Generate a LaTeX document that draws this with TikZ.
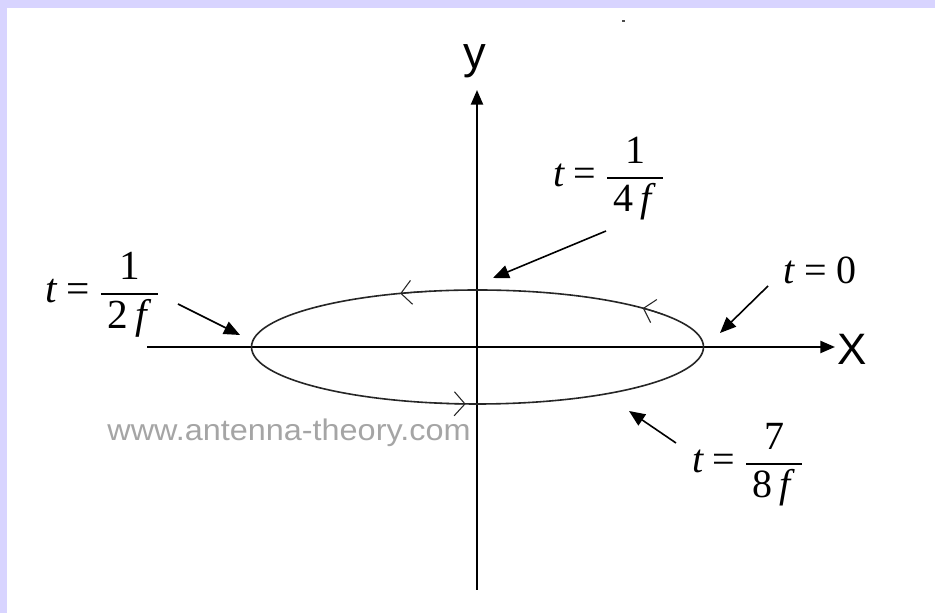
\documentclass[tikz,border=0pt]{standalone}
\usepackage{amsmath,amssymb}
\usepackage{fontspec}
\setmainfont{Liberation Serif}
\newfontfamily\arialfont{Liberation Sans}
\usetikzlibrary{arrows.meta}
\definecolor{lavender}{RGB}{216,212,255}
\definecolor{markgray}{RGB}{165,165,165}
\newcommand{\tfraclabel}[2]{$\textit{t} \mathrel{\text{=}} \dfrac{\text{#1}}{\text{\,#2\,}}$}

\begin{document}
\begin{tikzpicture}[x=0.75pt, y=0.75pt,
  axis/.style={line width=1.7pt, -{Triangle[length=11pt, width=9pt]}},
  orbit/.style={line width=1.2pt, black!85},
  chevron/.style={line width=0.8pt, black!85, -{Straight Barb[length=8pt, width=18pt]}},
  pointer/.style={line width=1.2pt, -{Triangle[length=12pt, width=10pt]}},
  tlabel/.style={inner sep=0pt, font=\fontsize{30}{34}\selectfont},
  axislabel/.style={inner sep=0pt, font=\arialfont\fontsize{33}{36}\selectfont},
  watermark/.style={inner sep=0pt, text=markgray, font=\arialfont\fontsize{24.3}{26}\selectfont}
]
  % frame
  \fill[lavender] (0,0) rectangle (935,613);
  \fill[white] (7,0) rectangle (935,605);
  \fill[black!70] (621.5,591) rectangle (625,593);

  % axes
  \coordinate (xstart) at (147,266);
  \coordinate (xend) at (835,266);
  \coordinate (ystart) at (477,23);
  \coordinate (yend) at (477,523);
  \draw[axis] (xstart) -- (xend);
  \draw[axis] (ystart) -- (yend);
  \node[axislabel] (xlab) at (852.5,263.5) {X};
  \node[axislabel, font=\arialfont\fontsize{34}{36}\selectfont] (ylab) at (475,552) {y};

  % polarization ellipse
  \coordinate (C) at (477.5,266);
  \draw[orbit] (C) ellipse[x radius=226, y radius=57];
  \draw[chevron] ([shift={(102:226 and 57)}]C) arc[start angle=102, end angle=110, x radius=226, y radius=57];
  \draw[chevron] ([shift={(35:226 and 57)}]C) arc[start angle=35, end angle=43, x radius=226, y radius=57];
  \draw[chevron] ([shift={(259:226 and 57)}]C) arc[start angle=259, end angle=267, x radius=226, y radius=57];

  \node[watermark] (site) at (289,180) {\scalebox{1}[0.92]{www.antenna-theory.com}};

  % time labels
  \node[tlabel, font=\fontsize{31}{34}\selectfont] (half) at (103,318) {\tfraclabel{1}{2\,\textit{f}}};
  \node[tlabel] (quarter) at (609,434) {\tfraclabel{1}{4\,\textit{f}}};
  \node[tlabel] (zero) at (820,343) {$\textit{t} \mathrel{\text{=}} \text{0}$};
  \node[tlabel] (seveneighth) at (748,148) {\tfraclabel{7}{8\,\textit{f}}};

  \coordinate (halfA) at (178,309);
  \coordinate (halfB) at (240,278);
  \coordinate (quarterA) at (606,382);
  \coordinate (quarterB) at (493,335);
  \coordinate (zeroA) at (768,327);
  \coordinate (zeroB) at (720,280);
  \coordinate (sevenA) at (676,170);
  \coordinate (sevenB) at (629,202);
  \draw[pointer] (halfA) -- (halfB);
  \draw[pointer] (quarterA) -- (quarterB);
  \draw[pointer] (zeroA) -- (zeroB);
  \draw[pointer] (sevenA) -- (sevenB);
\end{tikzpicture}
\end{document}
